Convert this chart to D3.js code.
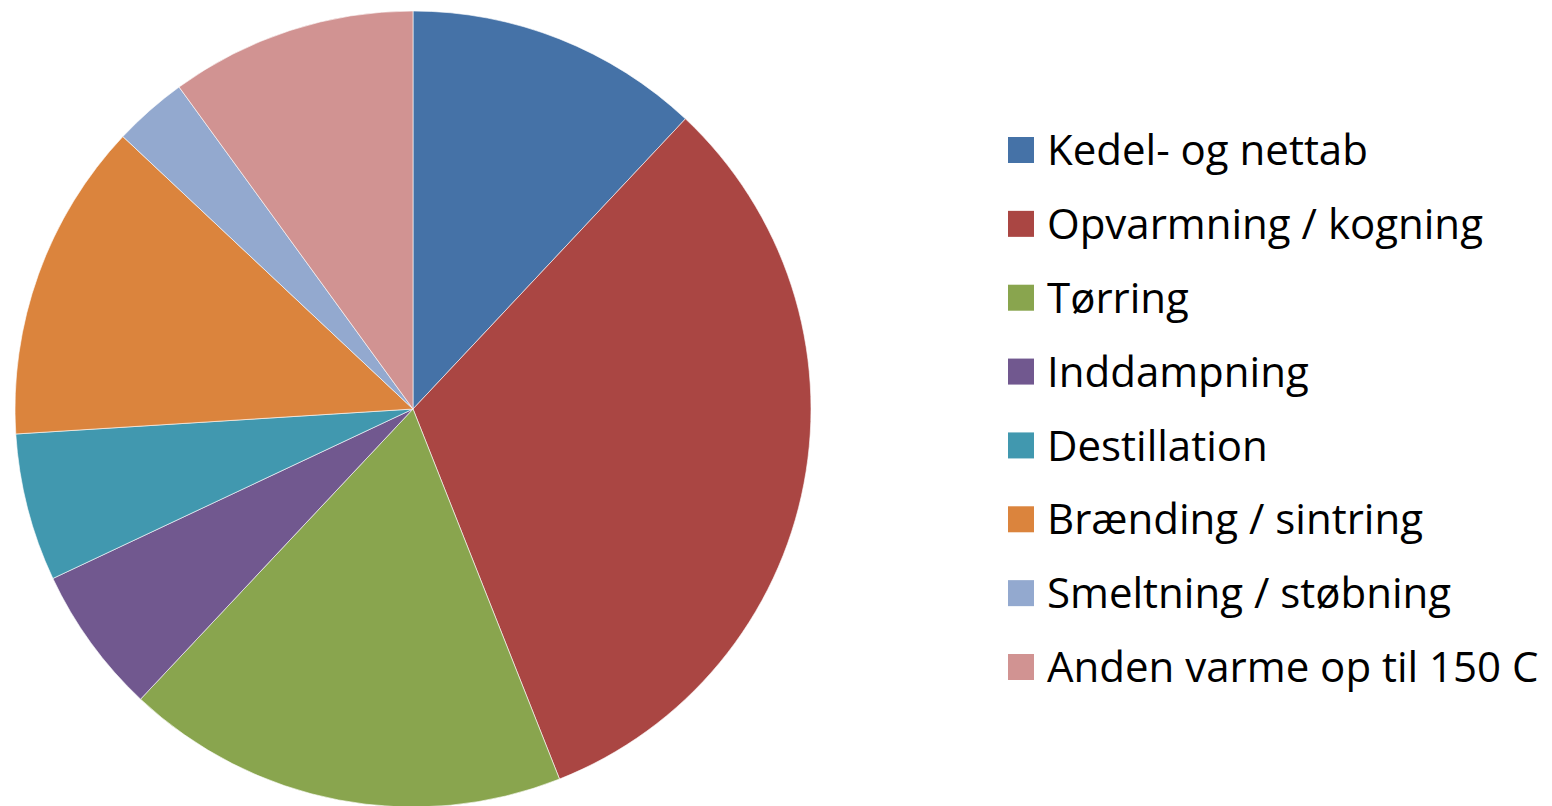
<!DOCTYPE html>
<html>
<head>
<meta charset="utf-8">
<script src="https://cdn.jsdelivr.net/npm/d3@7"></script>
<style>
  html, body { margin: 0; padding: 0; background: #fff; }
  svg { display: block; }
  .leg text { font-family: "Open Sans", "Noto Sans", sans-serif; font-size: 42px; fill: #000; }
</style>
</head>
<body>
<svg id="chart" width="1552" height="806"></svg>
<script>
  // process heat use shares (%)
  const labels = ["Kedel- og nettab", "Opvarmning / kogning", "Tørring", "Inddampning",
    "Destillation", "Brænding / sintring", "Smeltning / støbning", "Anden varme op til 150 C"];
  const values = [12, 32, 18, 6, 6, 13, 3, 10];
  const colors = ["#4572A7", "#AA4643", "#89A54E", "#71588F", "#4198AF", "#DB843D", "#93A9CF", "#D19392"];

  const svg = d3.select("#chart");
  const cx = 413, cy = 409, R = 398;

  const pie = d3.pie().sort(null).value((d) => d.v);
  const arc = d3.arc().innerRadius(0).outerRadius(R);
  const data = labels.map((l, i) => ({ l, v: values[i], c: colors[i] }));

  svg.append("g").attr("transform", `translate(${cx},${cy})`)
    .selectAll("path").data(pie(data)).enter().append("path")
    .attr("d", arc).attr("fill", (d) => d.data.c)
    .attr("stroke", "#fff").attr("stroke-width", 1).attr("stroke-opacity", 0.6);

  // legend
  const y = d3.scalePoint().domain(labels).range([150, 667]);
  const leg = svg.append("g").attr("class", "leg")
    .selectAll("g").data(data).enter().append("g")
    .attr("transform", (d) => `translate(1008,${y(d.l)})`);
  leg.append("rect").attr("x", 0).attr("y", -13).attr("width", 26).attr("height", 26)
    .attr("fill", (d) => d.c);
  leg.append("text").attr("x", 39).attr("y", 0).attr("dy", "0.36em").text((d) => d.l);
</script>
</body>
</html>
